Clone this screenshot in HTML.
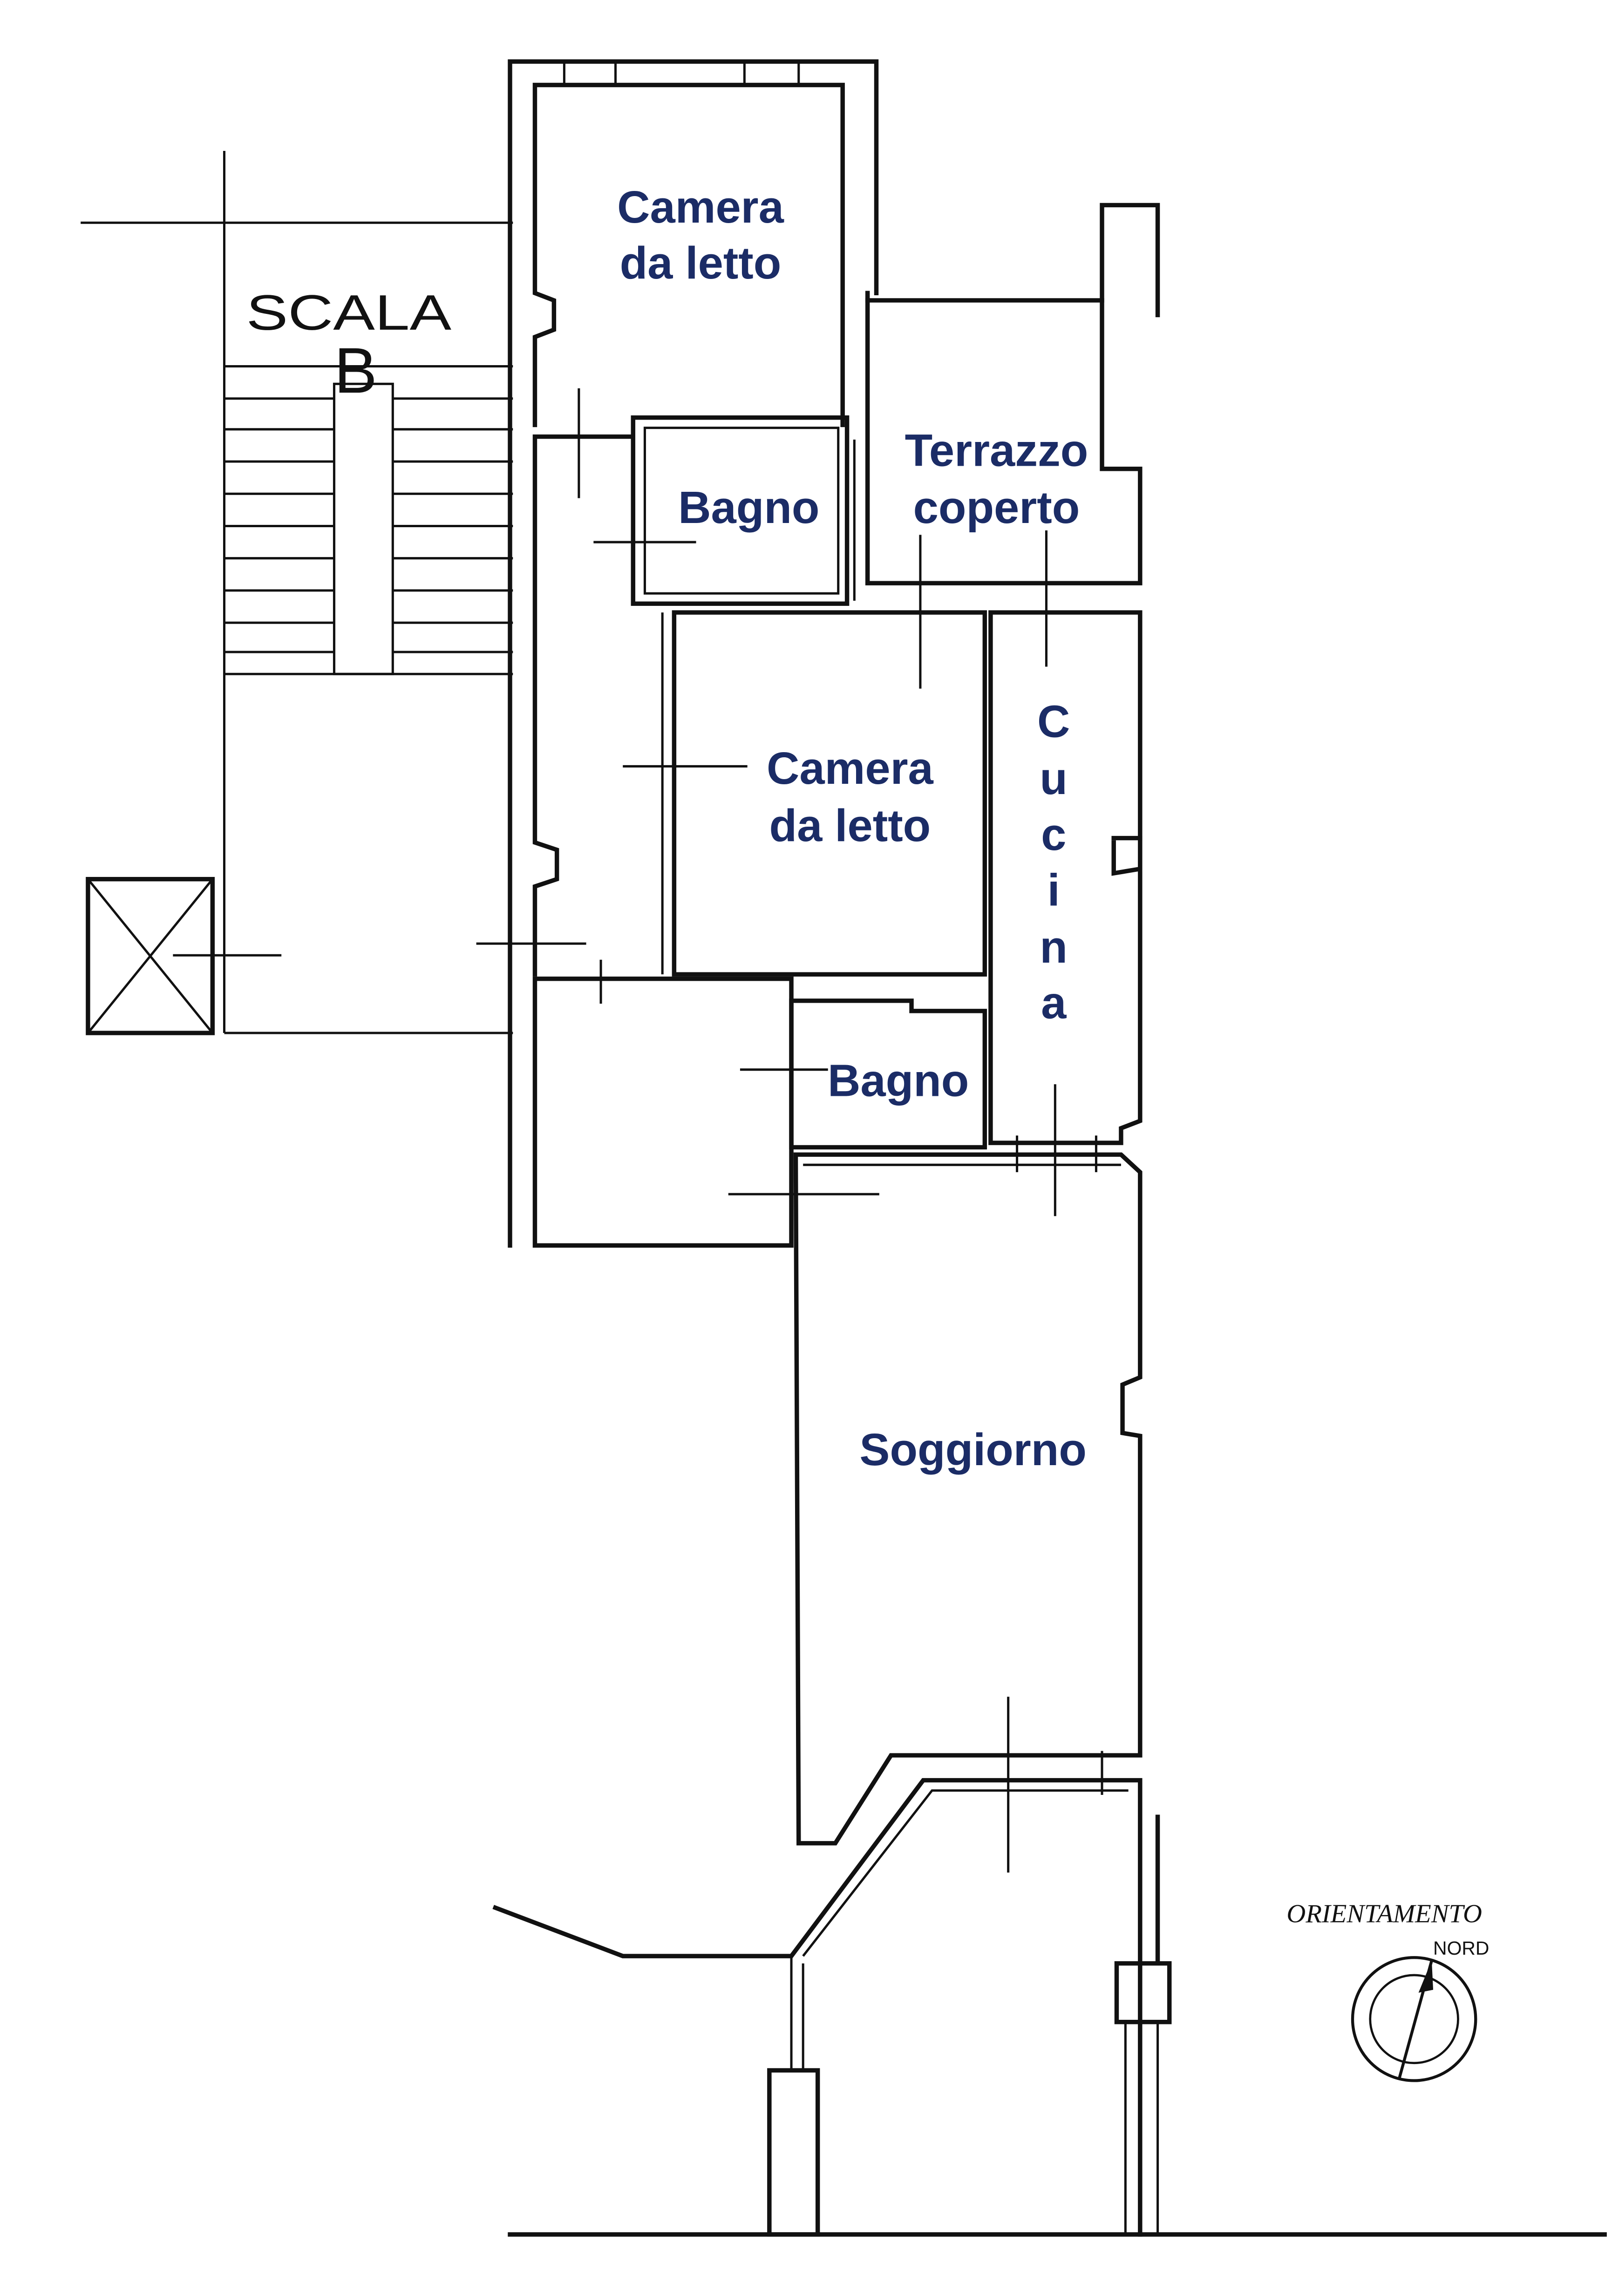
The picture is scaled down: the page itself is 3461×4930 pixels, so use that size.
<!DOCTYPE html>
<html><head><meta charset="utf-8">
<style>
html,body{margin:0;padding:0;background:#fff;}
svg{display:block;}
.w{stroke:#111;fill:none;stroke-width:3;stroke-linecap:square;}
.t{stroke:#111;fill:none;stroke-width:1.6;}
.lb{font-family:"Liberation Sans",sans-serif;font-weight:bold;fill:#1b2c66;font-size:31px;}
</style></head><body>
<svg width="3461" height="4930" viewBox="0 0 1100 1567" xmlns="http://www.w3.org/2000/svg">
<rect width="1100" height="1567" fill="#fff"/>
<!-- stair block -->
<line class="t" x1="55" y1="152" x2="350" y2="152"/>
<line class="t" x1="153" y1="103" x2="153" y2="705"/>
<line class="t" x1="153" y1="250" x2="350" y2="250"/>
<rect class="t" x="228" y="262" width="40" height="198"/>
<line class="t" x1="153" y1="460" x2="350" y2="460"/>
<line class="t" x1="153" y1="705" x2="350" y2="705"/>
<g class="t">
<line x1="153" y1="272" x2="228" y2="272"/><line x1="268" y1="272" x2="350" y2="272"/>
<line x1="153" y1="293" x2="228" y2="293"/><line x1="268" y1="293" x2="350" y2="293"/>
<line x1="153" y1="315" x2="228" y2="315"/><line x1="268" y1="315" x2="350" y2="315"/>
<line x1="153" y1="337" x2="228" y2="337"/><line x1="268" y1="337" x2="350" y2="337"/>
<line x1="153" y1="359" x2="228" y2="359"/><line x1="268" y1="359" x2="350" y2="359"/>
<line x1="153" y1="381" x2="228" y2="381"/><line x1="268" y1="381" x2="350" y2="381"/>
<line x1="153" y1="403" x2="228" y2="403"/><line x1="268" y1="403" x2="350" y2="403"/>
<line x1="153" y1="425" x2="228" y2="425"/><line x1="268" y1="425" x2="350" y2="425"/>
<line x1="153" y1="445" x2="228" y2="445"/><line x1="268" y1="445" x2="350" y2="445"/>
</g>
<text x="168" y="225" font-family="Liberation Sans,sans-serif" font-size="34" fill="#111" textLength="140" lengthAdjust="spacingAndGlyphs">SCALA</text>
<text x="228" y="268" font-family="Liberation Sans,sans-serif" font-size="44" fill="#111">B</text>
<!-- X box -->
<rect class="w" x="60" y="600" width="85" height="105"/>
<line class="t" x1="60" y1="600" x2="145" y2="705"/><line class="t" x1="145" y1="600" x2="60" y2="705"/>
<line class="t" x1="118" y1="652" x2="192" y2="652"/>
<!-- main outer walls -->
<path class="w" d="M348 42 H598 V200 M348 42 V850 M365 58 H575 V290 M365 58 V200 L378 205 V225 L365 230 V290"/>
<line class="t" x1="385" y1="42" x2="385" y2="58"/><line class="t" x1="420" y1="42" x2="420" y2="58"/>
<line class="t" x1="508" y1="42" x2="508" y2="58"/><line class="t" x1="545" y1="42" x2="545" y2="58"/>
<path class="w" d="M365 298 H432 M365 298 V575 L380 580 V600 L365 605 V665"/>
<!-- terrazzo -->
<path class="w" d="M592 200 V398 H778 V320 H752 V140 H790 V215"/>
<line class="w" x1="592" y1="205" x2="752" y2="205"/>
<!-- bagno 1 -->
<rect class="w" x="432" y="285" width="146" height="127"/>
<rect class="t" x="440" y="292" width="132" height="113"/>
<!-- camera 2 -->
<rect class="w" x="460" y="418" width="212" height="247"/>
<line class="t" x1="452" y1="418" x2="452" y2="665"/>
<!-- cucina -->
<path class="w" d="M676 418 H778 V593 L760 596 V575 M760 596 M676 418 V780 H765 V770 L778 765 V593"/>
<path class="w" d="M760 572 H778"/>
<!-- small room -->
<path class="w" d="M365 668 H540 V850 H365 Z"/>
<!-- bagno 2 -->
<path class="w" d="M540 683 H622 V690 H672 V783 H540 Z"/>
<!-- soggiorno -->
<path class="w" d="M543 788 H765 L778 800 V940 L766 945 V978 L778 980 V1198 H608 L570 1258 H545 Z"/>
<line class="t" x1="548" y1="795" x2="765" y2="795"/>
<!-- lower area -->
<path class="w" d="M338 1302 L425 1335 H540 L630 1215 H778 V1525"/>
<path class="t" d="M548 1335 L636 1222 H770"/>
<line class="t" x1="540" y1="1335" x2="540" y2="1413"/><line class="t" x1="548" y1="1340" x2="548" y2="1413"/>
<rect class="w" x="525" y="1413" width="33" height="112"/>
<rect class="w" x="762" y="1340" width="36" height="40"/>
<line class="w" x1="790" y1="1240" x2="790" y2="1340"/>
<line class="t" x1="768" y1="1380" x2="768" y2="1525"/><line class="t" x1="790" y1="1380" x2="790" y2="1525"/>
<line class="w" x1="348" y1="1525" x2="1095" y2="1525"/>
<!-- door / tick marks -->
<g class="t">
<line x1="395" y1="265" x2="395" y2="340"/><line x1="405" y1="370" x2="475" y2="370"/>
<line x1="583" y1="300" x2="583" y2="410"/><line x1="628" y1="365" x2="628" y2="470"/>
<line x1="714" y1="362" x2="714" y2="455"/><line x1="425" y1="523" x2="510" y2="523"/>
<line x1="325" y1="644" x2="400" y2="644"/><line x1="410" y1="655" x2="410" y2="685"/>
<line x1="505" y1="730" x2="565" y2="730"/><line x1="497" y1="815" x2="600" y2="815"/>
<line x1="720" y1="740" x2="720" y2="830"/><line x1="688" y1="1158" x2="688" y2="1278"/>
<line x1="694" y1="775" x2="694" y2="800"/><line x1="748" y1="775" x2="748" y2="800"/>
<line x1="752" y1="1195" x2="752" y2="1225"/>
</g>
<!-- labels -->
<text class="lb" x="478" y="152" text-anchor="middle">Camera</text>
<text class="lb" x="478" y="190" text-anchor="middle">da letto</text>
<text class="lb" x="511" y="357" text-anchor="middle">Bagno</text>
<text class="lb" x="680" y="318" text-anchor="middle">Terrazzo</text>
<text class="lb" x="680" y="357" text-anchor="middle">coperto</text>
<text class="lb" x="580" y="535" text-anchor="middle">Camera</text>
<text class="lb" x="580" y="574" text-anchor="middle">da letto</text>
<g class="lb" text-anchor="middle">
<text x="719" y="503">C</text><text x="719" y="542">u</text><text x="719" y="580">c</text>
<text x="719" y="618">i</text><text x="719" y="657">n</text><text x="719" y="695">a</text>
</g>
<text class="lb" x="613" y="748" text-anchor="middle">Bagno</text>
<text class="lb" x="664" y="1000" text-anchor="middle">Soggiorno</text>
<!-- compass -->
<text x="878" y="1312" font-family="Liberation Serif,serif" font-style="italic" font-size="18" fill="#111">ORIENTAMENTO</text>
<text x="978" y="1334" font-family="Liberation Sans,sans-serif" font-size="13" fill="#111">NORD</text>
<circle cx="965" cy="1378" r="42" fill="none" stroke="#111" stroke-width="2"/>
<circle cx="965" cy="1378" r="30" fill="none" stroke="#111" stroke-width="1.5"/>
<line x1="955" y1="1418" x2="977" y2="1338" stroke="#111" stroke-width="2"/>
<path d="M977 1338 L968 1360 L978 1358 Z" fill="#111"/>
</svg>
</body></html>
